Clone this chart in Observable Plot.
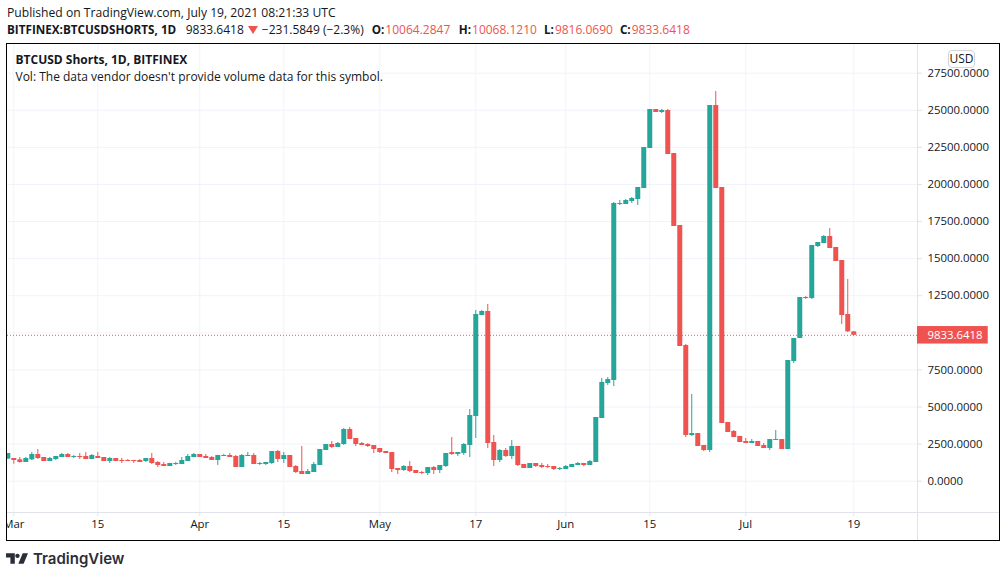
<!DOCTYPE html>
<html>
<head>
<meta charset="utf-8">
<script src="https://cdn.jsdelivr.net/npm/d3@7"></script>
<script src="https://cdn.jsdelivr.net/npm/@observablehq/plot@0.6"></script>
<style>
  body { margin: 0; background: white; color: #131722; font-family: "Open Sans", sans-serif; font-size: 12px; }
  #header { height: 43px; box-sizing: border-box; padding: 4px 0 0 7px; line-height: 17px; white-space: nowrap; }
  #header > div:first-child { font-size: 12.15px; }
  #header b { font-weight: 700; font-size: 11.7px; }
  #header .red { color: #ef5350; margin-left: 1px; }
  #header svg { margin: 0 4px; }
  #chart { position: relative; margin-left: 6px; width: 994px; height: 498px; box-sizing: border-box; border: 1px solid black; overflow: hidden; }
  #chart svg { display: block; }
  #usd { position: absolute; left: 941px; top: 6px; width: 27px; height: 18px; box-sizing: border-box; border: 1px solid #d1d4dc; border-radius: 4px; background: white; text-align: center; line-height: 16px; }
  #footer { display: flex; align-items: center; height: 34px; padding-left: 6px; font-family: Inter, sans-serif; font-weight: 600; font-size: 15px; color: #2a2e39; }
  #footer svg { margin-right: 5px; }
</style>
</head>
<body>
<div id="header">
  <div>Published on TradingView.com, July 19, 2021 08:21:33 UTC</div>
  <div><b>BITFINEX:BTCUSDSHORTS, 1D</b><span style="margin-left:9.5px">9833.6418</span><svg width="10" height="8" viewBox="0 0 10 8"><path fill="#ef5350" d="M0 0h10L5 8z"/></svg><span>&minus;231.5849 (&minus;2.3%)</span><b style="margin-left:8px">O:</b><span class="red">10064.2847</span><b style="margin-left:8.5px">H:</b><span class="red">10068.1210</span><b style="margin-left:7px">L:</b><span class="red">9816.0690</span><b style="margin-left:7px">C:</b><span class="red">9833.6418</span></div>
</div>
<div id="chart"><div id="usd">USD</div></div>
<div id="footer">
  <svg width="22" height="11" viewBox="0 0 25 12"><path fill="#2a2e39" d="M0 0h10v12H5V5H0zM19 0h6l-5 12h-6z"/><circle fill="#2a2e39" cx="13" cy="3" r="2.5"/></svg>
  TradingView
</div>
<script>
// daily candles, first one is Feb 28 2021
const startDay = "2021-02-28"

const opens = [1484,1529,1440,1260,1440,1799,1597,1327,1462,1597,1799,1597,1664,1664,1462,1664,1597,1327,1529,1395,1395,1395,1395,1327,1529,1260,1125,990,1125,1125,1327,1597,
  1799,1664,1597,1395,1664,1732,1664,923,1664,1732,1125,1125,1192,2001,1462,1732,990,653,451,586,1058,2069,2473,2271,2472,3483,2876,2539,2472,2404,
  2202,2000,1932,854,719,989,719,584,517,921,719,989,1932,1798,1865,2404,4359,11168,11437,2607,1393,2067,1663,2337,1124,854,1191,1056,989,989,787,
  787,921,1056,1191,1056,1258,4224,6584,6786,18648,18648,18850,18985,19727,22423,25052,24850,24985,22086,17233,9145,3078,3213,2404,2067,25322,19794,3955,3348,3011,
  2674,2539,2674,2403,2202,2741,2808,2134,8066,9616,12380,12313,15818,16021,16492,15751,14874,11234,10064.28]
const highs = [1866,1529,1597,1597,1934,2136,1597,1597,1664,1866,1866,1732,1866,1934,1799,1934,1597,1597,1529,1529,1462,1395,1462,1529,1866,1327,1260,1192,1260,1597,1799,1866,
  1799,1799,1664,1732,1799,1866,1732,1799,1934,1866,1260,1260,2001,2069,1934,1732,1058,2338,788,1260,2136,2473,2675,2608,3550,3618,2876,2607,2539,2404,
  2202,2000,1932,854,1056,1326,719,652,921,989,1056,1865,2944,1932,2539,4831,11505,11505,11909,3079,2135,2202,2741,2337,1124,1191,1191,1191,1124,989,921,
  1056,1124,1258,1191,1393,4292,6921,6988,18783,18918,18985,19120,19794,22490,25052,25052,25052,25052,22086,17233,9213,5842,3213,2404,25322,26265,19794,3955,3416,3011,
  2876,2809,2674,2539,2808,3415,2808,8134,9616,12380,12448,15886,16088,16560,17032,15751,14874,13594,10068.12]
const lows = [1484,1148,1215,1260,1395,1462,1327,1327,1395,1597,1597,1529,1462,1462,1462,1529,1327,1192,1327,1192,1327,1192,1260,1260,1125,923,990,990,1058,1125,1327,1597,
  1597,1529,1395,1058,1664,1597,923,923,1664,1125,1058,1058,1125,1260,1192,923,518,451,451,586,1058,2069,2204,2271,2404,2809,2337,2404,2270,1865,
  1865,1865,584,449,652,584,517,449,382,449,517,921,1730,1663,1730,1595,2876,11168,2202,989,1258,1595,1460,989,854,854,921,854,854,719,719,
  787,921,1056,989,1056,1258,4224,6449,6381,18581,18648,18715,18581,19727,22423,24850,24783,22019,17165,9078,2944,3011,2337,1999,1932,19727,3887,3281,2944,2607,
  2539,2539,2337,2202,2067,2741,2134,2134,7931,9616,12246,12246,15751,16021,15683,14807,10560,10021,9816.07]
const closes = [1866,1395,1260,1529,1799,1529,1327,1529,1664,1799,1597,1664,1597,1462,1732,1529,1327,1529,1327,1327,1327,1327,1260,1529,1192,1058,990,1192,1192,1395,1664,1799,
  1597,1529,1395,1732,1732,1597,923,1732,1732,1125,1192,1260,2001,1462,1732,923,586,451,653,1125,2136,2473,2271,2541,3483,2809,2472,2404,2337,2135,
  1932,1865,787,719,989,652,517,517,921,719,1056,1865,1798,1932,2472,4427,11235,11437,2539,1393,2067,1663,2337,1056,854,1191,989,921,921,787,854,
  989,1124,1191,1056,1326,4292,6651,6853,18715,18715,18918,19053,19794,22490,25052,24850,24985,22019,17165,9078,3078,3213,2337,2067,25322,19727,3887,3281,2944,2607,
  2539,2674,2337,2202,2808,2808,2134,8134,9616,12380,12313,15886,16088,16492,15683,14807,11167,10065,9833.64]

// axis ticks
const yTicks = [0,2500,5000,7500,10000,12500,15000,17500,20000,22500,25000,27500]
const yTickShown = yTicks.filter(d => d != 10000) // the price tag sits where 10000 would be
const xTickDays = ["2021-03-01","2021-03-15","2021-04-01","2021-04-15","2021-05-01","2021-05-17","2021-06-01","2021-06-15","2021-07-01","2021-07-19"]
const xTickLabels = ["Mar","15","Apr","15","May","17","Jun","15","Jul","19"]

const lastPrice = 9833.6418

const xStart = new Date("2021-02-27T22:48Z")
const xEnd = new Date("2021-07-29T15:00Z")
const yBottom = -2110
const yTop = 29433

const green = "#26a69a"
const red = "#ef5350"
const gridColor = "#f0f3fa"
const axisColor = "#e0e3eb"

const candles = opens.map((o, i) => ({
  date: d3.utcDay.offset(new Date(startDay), i),
  open: o, high: highs[i], low: lows[i], close: closes[i]
}))
const xTicks = xTickDays.map(d => new Date(d))
const candleColor = d => d.close >= d.open ? green : red

const chart = Plot.plot({
  width: 992,
  height: 496,
  marginTop: 0,
  marginLeft: 0,
  marginRight: 82,
  marginBottom: 28,
  style: { fontFamily: "'Open Sans', sans-serif", fontSize: "11.4px", color: "#131722", background: "white" },
  x: { type: "utc", domain: [xStart, xEnd] },
  y: { domain: [yBottom, yTop] },
  marks: [
    Plot.gridY(yTicks, { stroke: gridColor, strokeOpacity: 1 }),
    Plot.gridX(xTicks, { stroke: gridColor, strokeOpacity: 1 }),
    Plot.ruleY([yBottom], { x1: () => xStart, x2: () => d3.utcDay.offset(xEnd, 20), stroke: axisColor }),
    Plot.ruleX([xEnd], { y1: yBottom - 2000, y2: yTop, stroke: axisColor }),
    Plot.axisY({ anchor: "right", ticks: yTickShown, tickFormat: d => d.toFixed(4), tickSize: 4, tickPadding: 6, stroke: axisColor, label: null }),
    Plot.axisX({ ticks: xTicks, tickFormat: (d, i) => xTickLabels[i], tickSize: 4, tickPadding: 3, stroke: axisColor, label: null }),
    Plot.ruleX(candles, { x: "date", y1: "low", y2: "high", stroke: candleColor, strokeWidth: 1 }),
    Plot.ruleX(candles, { x: "date", y1: "open", y2: "close", stroke: candleColor, strokeWidth: 5 }),
    Plot.ruleY([lastPrice], { stroke: red, strokeDasharray: "1 2" }),
    Plot.rect([lastPrice], { x1: () => xEnd, x2: () => d3.utcHour.offset(xEnd, 283), y1: d => d - 590, y2: d => d + 590, fill: red }),
    Plot.text([lastPrice], { x: () => xEnd, y: d => d, dx: 10, text: d => d.toFixed(4), textAnchor: "start", fill: "white" }),
    Plot.text(["BTCUSD Shorts, 1D, BITFINEX"], { frameAnchor: "top-left", dx: 8, dy: 11, fontSize: 12, fontWeight: "bold", stroke: "white", strokeWidth: 3, fill: "#131722" }),
    Plot.text(["Vol: The data vendor doesn't provide volume data for this symbol."], { frameAnchor: "top-left", dx: 8, dy: 28, fontSize: 12, stroke: "white", strokeWidth: 3, fill: "#131722" })
  ]
})
document.querySelector("#chart").prepend(chart)
</script>
</body>
</html>
